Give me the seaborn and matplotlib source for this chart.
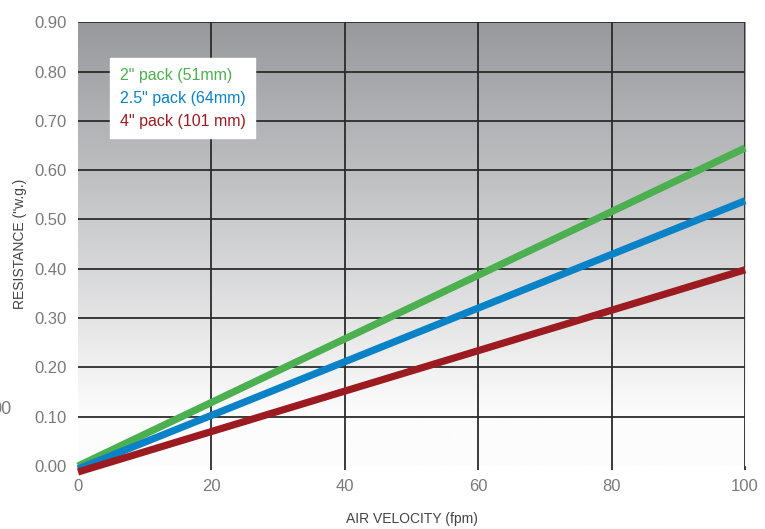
import numpy as np
import pandas as pd
import matplotlib
matplotlib.use("Agg")
import matplotlib.pyplot as plt
import seaborn as sns

# data
velocity = [0, 100]
pack_2in = [0.0, 0.645]
pack_25in = [-0.006, 0.538]
pack_4in = [-0.012, 0.398]
series_names = ['2" pack (51mm)', '2.5" pack (64mm)', '4" pack (101 mm)']
series_colors = ['#4caf50', '#0a82c8', '#9b1b20']
x_ticks = [0, 20, 40, 60, 80, 100]
y_ticks = [0.0, 0.1, 0.2, 0.3, 0.4, 0.5, 0.6, 0.7, 0.8, 0.9]

df = pd.DataFrame({
    'velocity': velocity * 3,
    'resistance': pack_2in + pack_25in + pack_4in,
    'pack': [series_names[0]] * 2 + [series_names[1]] * 2 + [series_names[2]] * 2,
})

sns.set_theme(style="white")
plt.rcParams['font.family'] = ['Liberation Sans', 'DejaVu Sans']

fig = plt.figure(figsize=(7.65, 5.29), dpi=100)
ax = fig.add_axes([0.102, 0.119, 0.872, 0.839])

# grey-to-white background gradient (row 0 = top of plot)
t = np.clip(np.linspace(0, 1, 256) / 0.88, 0, 1)
top = np.array([152, 153, 157]) / 255
bot = np.array([252, 252, 252]) / 255
img = (top[None, :] * (1 - t)[:, None] + bot[None, :] * t[:, None]).reshape(256, 1, 3)
ax.imshow(img, extent=[0, 100, 0.0, 0.9], origin='upper', aspect='auto',
          zorder=0, interpolation='bilinear')

sns.lineplot(data=df, x='velocity', y='resistance', hue='pack', palette=series_colors,
             linewidth=5.2, ax=ax, zorder=3, legend=True)
for ln in ax.lines:
    ln.set_solid_capstyle('butt')
    ln.set_clip_on(False)

ax.set_xlim(0, 100)
ax.set_ylim(0, 0.9)
ax.set_xticks(x_ticks)
ax.set_yticks(y_ticks)
ax.set_yticklabels([f'{v:.2f}' for v in y_ticks])
ax.grid(True, color='#2b2b2b', linewidth=1.3, zorder=1)
ax.xaxis.get_gridlines()[0].set_visible(False)
ax.yaxis.get_gridlines()[0].set_visible(False)
ax.set_axisbelow(False)
for sp in ax.spines.values():
    sp.set_visible(False)

ax.tick_params(axis='x', length=3, width=1.3, color='#2b2b2b', labelsize=12,
               labelcolor='#7a7a7a', pad=6, bottom=True)
ax.xaxis.get_major_ticks()[0].tick1line.set_visible(False)
ax.tick_params(axis='y', length=0, labelsize=12, labelcolor='#7a7a7a', pad=8)

ax.set_xlabel('AIR VELOCITY (fpm)', fontsize=10, color='#444444', labelpad=13)
ax.set_ylabel('RESISTANCE ("w.g.)', fontsize=10, color='#444444')
ax.yaxis.set_label_coords(-0.076, 0.5)

leg = ax.legend(loc='upper left', bbox_to_anchor=(0.048, 0.919), borderaxespad=0,
                handlelength=0, handletextpad=0, fontsize=11.5, frameon=True,
                fancybox=False, framealpha=1, edgecolor='white', labelspacing=0.5,
                borderpad=0.6)
for txt, c in zip(leg.get_texts(), series_colors):
    txt.set_color(c)
for h in leg.legend_handles:
    h.set_visible(False)
leg.set_zorder(5)

# stray fragment of neighbouring chart at left edge
fig.text(-0.012, 0.225, '00', fontsize=13, color='#7a7a7a', va='center')

fig.savefig('out.png', dpi=100)
